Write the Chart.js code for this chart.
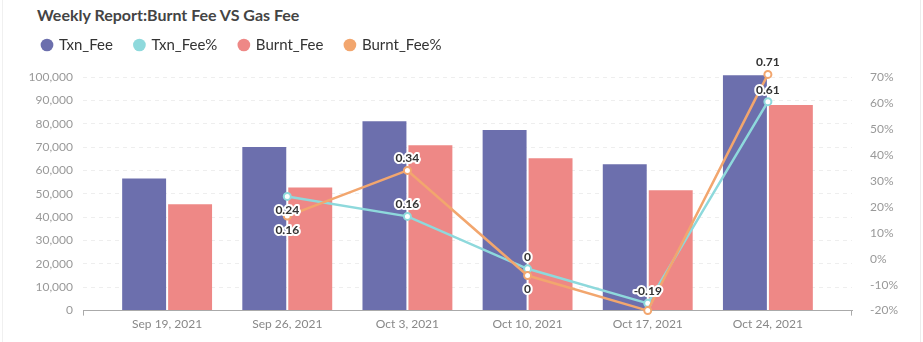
<!DOCTYPE html>
<html>
<head>
<meta charset="utf-8">
<script src="https://cdn.jsdelivr.net/npm/chart.js@4/dist/chart.umd.min.js"></script>
<style>
    html, body { margin: 0; padding: 0; background: #fff; }
    .card { position: relative; width: 923px; height: 342px; overflow: hidden; }
    .card::before { content: ''; position: absolute; left: 2px; top: -2px; width: 917px; height: 346px; border-left: 1px solid #f0f0f0; border-right: 1px solid #ececec; }
    .title { position: absolute; left: 37px; top: 5px; font: bold 16px Lato, sans-serif; color: #444; }
    canvas { position: absolute; left: 0; top: 0; }
</style>
</head>
<body>
<div class="card">
    <div class="title">Weekly Report:Burnt Fee VS Gas Fee</div>
    <canvas id="feeChart" width="923" height="342"></canvas>
</div>
<script>
// --- DATA ---
const weeks = ['Sep 19, 2021', 'Sep 26, 2021', 'Oct 3, 2021', 'Oct 10, 2021', 'Oct 17, 2021', 'Oct 24, 2021'];
const txnFee = [56500, 70000, 81100, 77300, 62700, 100700];
const burntFee = [45500, 52700, 70800, 65200, 51500, 88000];
const txnFeePct = [null, 0.24, 0.163, -0.039, -0.172, 0.605];
const burntFeePct = [null, 0.164, 0.34, -0.065, -0.20, 0.71];
const txnFeePctLabels = [null, '0.24', '0.16', '0', '-0.19', '0.61'];
const burntFeePctLabels = [null, '0.16', '0.34', '0', null, '0.71'];
// label above (-1) or below (+1) the point
const txnLabelSide = [0, 1, -1, -1, -1, -1];
const burntLabelSide = [0, 1, -1, 1, 0, -1];
const legendOrder = ['Txn_Fee', 'Txn_Fee%', 'Burnt_Fee', 'Burnt_Fee%'];

const COLORS = {
    txn: '#6c6fad',
    burnt: '#ee8886',
    txnPct: '#8ed9dc',
    burntPct: '#f2a66e'
};

const toPoints = arr => arr.map((v, i) => ({ x: i, y: v }));

// --- PLUGINS ---

const pointLabels = {
    id: 'pointLabels',
    afterDatasetsDraw(chart) {
        const ctx = chart.ctx;
        ctx.save();
        ctx.font = 'bold 12px Lato, sans-serif';
        ctx.textAlign = 'center';
        ctx.textBaseline = 'middle';
        ctx.lineJoin = 'round';
        chart.data.datasets.forEach((ds, di) => {
            if (!ds.valueLabels) return;
            const meta = chart.getDatasetMeta(di);
            meta.data.forEach((pt, i) => {
                const txt = ds.valueLabels[i];
                if (txt == null || ds.labelSide[i] === 0) return;
                const y = pt.y + (ds.labelSide[i] > 0 ? 14 : -12);
                ctx.lineWidth = 4;
                ctx.strokeStyle = '#fff';
                ctx.strokeText(txt, pt.x, y);
                ctx.fillStyle = '#333';
                ctx.fillText(txt, pt.x, y);
            });
        });
        ctx.restore();
    }
};

const axisEndTicks = {
    id: 'axisEndTicks',
    afterDraw(chart) {
        const { ctx, chartArea } = chart;
        ctx.save();
        ctx.strokeStyle = '#aaa';
        ctx.lineWidth = 1;
        ctx.beginPath();
        ctx.moveTo(chartArea.left + 0.5, chartArea.bottom);
        ctx.lineTo(chartArea.left + 0.5, chartArea.bottom + 5);
        ctx.moveTo(chartArea.right - 0.5, chartArea.bottom);
        ctx.lineTo(chartArea.right - 0.5, chartArea.bottom + 5);
        ctx.stroke();
        ctx.restore();
    }
};

// extra room under the legend
const legendMargin = {
    id: 'legendMargin',
    beforeInit(chart) {
        const fit = chart.legend.fit;
        chart.legend.fit = function () {
            fit.bind(chart.legend)();
            this.height += 14.5;
        };
    }
};

// --- CHART ---

const tickFont = { family: 'Lato, sans-serif', size: 12 };

new Chart(document.getElementById('feeChart'), {
    data: {
        datasets: [
            {
                type: 'line',
                label: 'Txn_Fee%',
                data: toPoints(txnFeePct),
                yAxisID: 'yPct',
                borderColor: COLORS.txnPct,
                backgroundColor: COLORS.txnPct,
                borderWidth: 2.5,
                pointRadius: 3.5,
                pointBorderWidth: 2,
                pointBackgroundColor: '#fff',
                pointBorderColor: COLORS.txnPct,
                tension: 0,
                valueLabels: txnFeePctLabels,
                labelSide: txnLabelSide,
                order: 1
            },
            {
                type: 'line',
                label: 'Burnt_Fee%',
                data: toPoints(burntFeePct),
                yAxisID: 'yPct',
                borderColor: COLORS.burntPct,
                backgroundColor: COLORS.burntPct,
                borderWidth: 2.5,
                pointRadius: 3.5,
                pointBorderWidth: 2,
                pointBackgroundColor: '#fff',
                pointBorderColor: COLORS.burntPct,
                tension: 0,
                clip: false,
                valueLabels: burntFeePctLabels,
                labelSide: burntLabelSide,
                order: 0
            },
            {
                type: 'bar',
                label: 'Txn_Fee',
                data: toPoints(txnFee),
                yAxisID: 'yFee',
                backgroundColor: COLORS.txn,
                categoryPercentage: 0.765,
                barPercentage: 0.956,
                clip: false,
                order: 2
            },
            {
                type: 'bar',
                label: 'Burnt_Fee',
                data: toPoints(burntFee),
                yAxisID: 'yFee',
                backgroundColor: COLORS.burnt,
                categoryPercentage: 0.765,
                barPercentage: 0.956,
                order: 3
            }
        ]
    },
    options: {
        responsive: false,
        animation: false,
        layout: { padding: { top: 15.5, left: 20.5, right: 10, bottom: 5 } },
        plugins: {
            tooltip: { enabled: false },
            legend: {
                position: 'top',
                align: 'start',
                labels: {
                    usePointStyle: true,
                    pointStyle: 'circle',
                    boxWidth: 9,
                    boxHeight: 9,
                    padding: 22,
                    color: '#333',
                    font: { family: 'Lato, sans-serif', size: 15 },
                    generateLabels: chart => {
                        const items = Chart.defaults.plugins.legend.labels.generateLabels(chart);
                        items.forEach(it => {
                            const ds = chart.data.datasets[it.datasetIndex];
                            const c = ds.type === 'line' ? ds.borderColor : ds.backgroundColor;
                            it.fillStyle = c;
                            it.strokeStyle = c;
                            it.lineWidth = 0;
                        });
                        return items;
                    },
                    sort: (a, b) => legendOrder.indexOf(a.text) - legendOrder.indexOf(b.text)
                }
            }
        },
        scales: {
            x: {
                type: 'linear',
                min: -0.7,
                max: 5.7,
                offset: false,
                afterBuildTicks: scale => { scale.ticks = weeks.map((w, i) => ({ value: i })); },
                ticks: {
                    color: '#888',
                    font: tickFont,
                    padding: 6,
                    maxRotation: 0,
                    callback: v => weeks[v]
                },
                grid: { display: false, drawTicks: false },
                border: { display: true, color: '#aaa' }
            },
            yFee: {
                position: 'left',
                min: 0,
                max: 100000,
                afterFit: scale => { scale.width = 62.5; },
                ticks: {
                    stepSize: 10000,
                    color: '#999',
                    font: tickFont,
                    padding: 10,
                    callback: v => v.toLocaleString('en-US')
                },
                grid: { color: '#eeeeee', drawTicks: false },
                border: { display: false, dash: [4, 4] }
            },
            yPct: {
                position: 'right',
                min: -0.2,
                max: 0.7,
                afterFit: scale => { scale.width = 61; },
                ticks: {
                    stepSize: 0.1,
                    color: '#999',
                    font: tickFont,
                    padding: 10,
                    callback: v => Math.round(v * 100) + '%'
                },
                grid: { display: false },
                border: { display: false }
            }
        }
    },
    plugins: [pointLabels, axisEndTicks, legendMargin]
});
</script>
</body>
</html>
